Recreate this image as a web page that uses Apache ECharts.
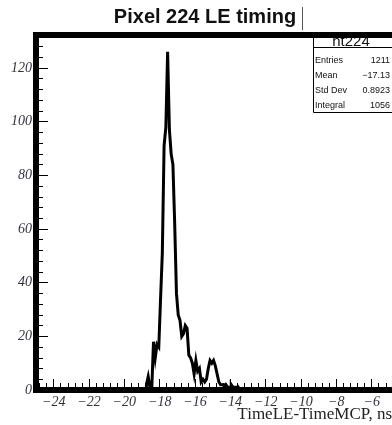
<!DOCTYPE html>
<html>
<head>
<meta charset="utf-8">
<script src="https://cdn.jsdelivr.net/npm/echarts@6/dist/echarts.min.js"></script>
<style>
  html, body { margin: 0; padding: 0; background: #fff; }
  #chart { width: 392px; height: 425px; }
</style>
</head>
<body>
<div id="chart"></div>
<script>
// Histogram ht224: leading-edge time of pixel 224 relative to the MCP
const chartTitle = 'Pixel 224 LE timing';
const xTitle = 'TimeLE-TimeMCP, ns';
const histName = 'ht224';

// bins of 0.1 ns, first bin starts at -18.75 ns
const binStart = -18.75;
const binWidth = 0.1;
const counts = [
  2, 5, 1, 0, 18, 12, 17, 16, 34, 51,
  91, 98, 126, 97, 88, 84, 62, 36, 28, 26,
  20, 21, 24, 23, 13, 12, 10, 6, 11, 7,
  8, 3, 4, 3, 4, 8, 11, 10, 11, 9,
  6, 3, 2, 2, 1, 2, 1, 1, 2, 1,
  1, 0, 1
];

// axis ranges and tick positions (the frame runs past the right edge of the page)
const xMin = -25, xMax = -4.85;
const yMin = 0, yMax = 132.3;
const xMajorTicks = [-24, -22, -20, -18, -16, -14, -12, -10, -8, -6];
const yMajorTicks = [0, 20, 40, 60, 80, 100, 120];
const xMinorStep = 0.4;
const yMinorStep = 4;

// statistics box
const statNames = ['Entries', 'Mean', 'Std Dev', 'Integral'];
const statValues = ['1211', '\u221217.13', '0.8923', '1056'];

function minorList(lo, hi, step, ref) {
  const out = [];
  const k0 = Math.ceil((lo - ref) / step - 1e-9);
  for (let k = k0; ref + k * step <= hi + 1e-9; k++) {
    out.push(+(ref + k * step).toFixed(4));
  }
  return out;
}
const xMinorTicks = minorList(xMin, xMax, xMinorStep, -24);
const yMinorTicks = minorList(yMin, yMax, yMinorStep, 0);

// step outline points: [low edge, count], closed at the last high edge
const histPoints = [[xMin, 0]];
counts.forEach((c, i) => histPoints.push([+(binStart + i * binWidth).toFixed(4), c]));
histPoints.push([+(binStart + counts.length * binWidth).toFixed(4), 0]);
histPoints.push([xMax, 0]);

const labelFont = {
  fontFamily: '"Liberation Serif", "DejaVu Serif", serif',
  fontStyle: 'italic',
  fontSize: 14,
  color: '#33333f'
};
const minusFmt = v => String(v).replace('-', '\u2212');
const frameLine = { show: true, lineStyle: { color: '#000', width: 6, cap: 'square' } };
const tickStyle = { color: '#000', width: 1 };

const chart = echarts.init(document.getElementById('chart'), null, { renderer: 'canvas' });
chart.setOption({
  animation: false,
  backgroundColor: '#ffffff',
  grid: { left: 36, top: 35, right: 0, bottom: 35 },
  xAxis: [
    {
      type: 'value', min: xMin, max: xMax, position: 'bottom',
      axisLine: frameLine,
      splitLine: { show: false },
      axisTick: { inside: true, length: 11, lineStyle: tickStyle, customValues: xMajorTicks },
      axisLabel: Object.assign({ margin: 5, customValues: xMajorTicks, formatter: minusFmt }, labelFont)
    },
    {
      type: 'value', min: xMin, max: xMax, position: 'bottom',
      axisLine: { show: false },
      splitLine: { show: false },
      axisTick: { inside: true, length: 7, lineStyle: tickStyle, customValues: xMinorTicks },
      axisLabel: { show: false }
    },
    {
      type: 'value', min: xMin, max: xMax, position: 'top',
      axisLine: frameLine,
      splitLine: { show: false },
      axisTick: { show: false },
      axisLabel: { show: false }
    }
  ],
  yAxis: [
    {
      type: 'value', min: yMin, max: yMax, position: 'left',
      axisLine: frameLine,
      splitLine: { show: false },
      axisTick: { inside: true, length: 12, lineStyle: tickStyle, customValues: yMajorTicks },
      axisLabel: Object.assign({ margin: 4, customValues: yMajorTicks, formatter: minusFmt }, labelFont)
    },
    {
      type: 'value', min: yMin, max: yMax, position: 'left',
      axisLine: { show: false },
      splitLine: { show: false },
      axisTick: { inside: true, length: 7, lineStyle: tickStyle, customValues: yMinorTicks },
      axisLabel: { show: false }
    }
  ],
  series: [{
    type: 'line',
    name: histName,
    xAxisIndex: 0,
    yAxisIndex: 0,
    data: histPoints,
    step: 'end',
    showSymbol: false,
    symbol: 'none',
    lineStyle: { color: '#000', width: 3, join: 'miter' },
    z: 3
  }],
  graphic: [
    {
      type: 'text', z: 100,
      style: {
        text: chartTitle, x: 205, y: 17, align: 'center', verticalAlign: 'middle',
        font: 'bold 20px "Liberation Sans", Arial, sans-serif',
        fill: '#111'
      }
    },
    {
      type: 'line', z: 100,
      shape: { x1: 302.5, y1: 7, x2: 302.5, y2: 30 },
      style: { stroke: '#555', lineWidth: 1 }
    },
    {
      type: 'group', z: 100,
      children: [
        { type: 'rect', shape: { x: 313.5, y: 35.5, width: 90, height: 77 },
          style: { fill: '#fff', stroke: '#000', lineWidth: 1 } },
        { type: 'line', shape: { x1: 313.5, y1: 47.5, x2: 400, y2: 47.5 },
          style: { stroke: '#000', lineWidth: 1 } },
        { type: 'text', style: { text: histName, x: 351, y: 42, align: 'center', verticalAlign: 'middle',
          font: '15px "Liberation Sans", Arial, sans-serif', fill: '#111' } }
      ].concat(statNames.map((n, i) => ({
        type: 'text', style: { text: n, x: 315, y: 61 + i * 14.8, verticalAlign: 'middle',
          font: '9px "Liberation Sans", Arial, sans-serif', fill: '#111' }
      }))).concat(statValues.map((v, i) => ({
        type: 'text', style: { text: v, x: 390, y: 61 + i * 14.8, align: 'right', verticalAlign: 'middle',
          font: '9px "Liberation Sans", Arial, sans-serif', fill: '#111' }
      })))
    },
    {
      type: 'text', z: 100,
      style: {
        text: xTitle, x: 392, y: 415, align: 'right', verticalAlign: 'middle',
        font: '17px "Liberation Serif", "DejaVu Serif", serif', fill: '#222'
      }
    }
  ]
});
</script>
</body>
</html>
